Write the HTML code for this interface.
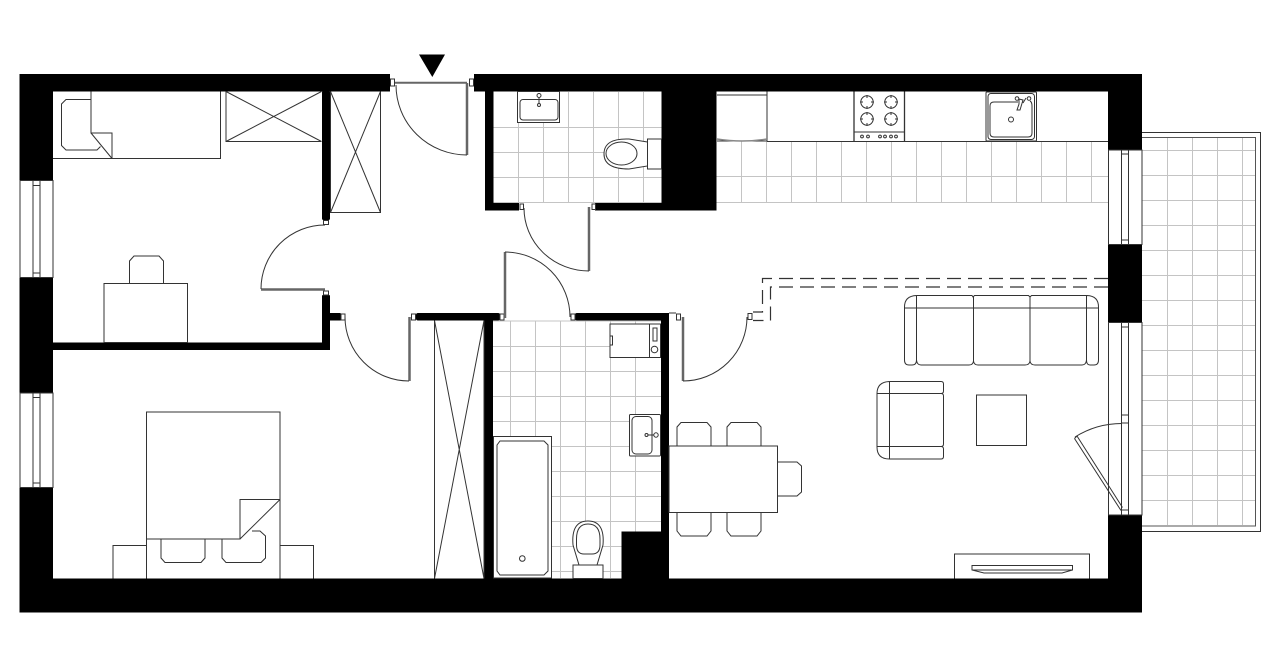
<!DOCTYPE html>
<html><head><meta charset="utf-8"><style>html,body{margin:0;padding:0;background:#fff}svg{display:block}</style></head>
<body>
<svg width="1280" height="667" viewBox="0 0 1280 667" xmlns="http://www.w3.org/2000/svg">
<rect width="1280" height="667" fill="#fff"/>
<!-- balcony -->
<g fill="none">
<rect x="1130" y="132.5" width="130.5" height="399" stroke="#333" stroke-width="1"/>
<rect x="1130" y="137.5" width="125.5" height="388.5" stroke="#555" stroke-width="1"/>
<path stroke="#c4c4c4" stroke-width="1" d="M1167.5 138V525M1192.5 138V525M1217.5 138V525M1242.5 138V525M1142 150.5H1255M1142 175.5H1255M1142 200.5H1255M1142 225.5H1255M1142 250.5H1255M1142 275.5H1255M1142 300.5H1255M1142 325.5H1255M1142 350.5H1255M1142 375.5H1255M1142 400.5H1255M1142 425.5H1255M1142 450.5H1255M1142 475.5H1255M1142 500.5H1255"/>
<!-- tiles -->
<path stroke="#c4c4c4" stroke-width="1" d="M518.5 92V203M543.5 92V203M568.5 92V203M593.5 92V203M618.5 92V203M643.5 92V203M493 127.5H662M493 152.5H662M493 177.5H662M493 202.5H662"/>
<path stroke="#c4c4c4" stroke-width="1" d="M493 321H661M510.5 321V578M535.5 321V578M560.5 321V578M585.5 321V578M610.5 321V578M635.5 321V578M493 346.5H661M493 371.5H661M493 396.5H661M493 421.5H661M493 446.5H661M493 471.5H661M493 496.5H661M493 521.5H661M493 546.5H661M493 571.5H661"/>
<path stroke="#c4c4c4" stroke-width="1" d="M741.5 141V203M766.5 141V203M791.5 141V203M816.5 141V203M841.5 141V203M866.5 141V203M891.5 141V203M916.5 141V203M941.5 141V203M966.5 141V203M991.5 141V203M1016.5 141V203M1041.5 141V203M1066.5 141V203M1091.5 141V203M716 176.5H1108M716 202.5H1108"/>
</g>
<!-- walls -->
<g fill="#000">
<rect x="19.5" y="74" width="370.5" height="17.5"/>
<rect x="474" y="74" width="668" height="17.5"/>
<rect x="19.5" y="74" width="33.5" height="107"/>
<rect x="19.5" y="278" width="33.5" height="115"/>
<rect x="19.5" y="487.5" width="33.5" height="125"/>
<rect x="19.5" y="578.5" width="1122.5" height="34"/>
<rect x="1108" y="74" width="34" height="76"/>
<rect x="1108" y="244.5" width="34" height="78"/>
<rect x="1108" y="515" width="34" height="97"/>
<rect x="322" y="91" width="8" height="129" rx="1.5"/>
<rect x="322" y="295" width="8" height="55" rx="1"/>
<rect x="53" y="342.5" width="277" height="7.5"/>
<rect x="330" y="313" width="10.5" height="7.5"/>
<rect x="416" y="313" width="84" height="7.5" rx="2"/>
<rect x="575" y="313" width="94" height="7.5" rx="2"/>
<rect x="484.5" y="313" width="8.5" height="266"/>
<rect x="661" y="313" width="8" height="266"/>
<rect x="621.5" y="531.5" width="47" height="48"/>
<rect x="485" y="91" width="8.5" height="119.5"/>
<rect x="485" y="203" width="34" height="7.5"/>
<rect x="595" y="203" width="121" height="7.5"/>
<rect x="661.5" y="91" width="55" height="119.5"/>
<path d="M419 54.5H445L432.3 77Z"/>
</g>
<!-- windows -->
<g fill="#fff" stroke="#333" stroke-width="1">
<rect x="20" y="180.5" width="33" height="97"/>
<rect x="20" y="393" width="33" height="94.5"/>
<rect x="1108.5" y="150" width="33.5" height="94.5"/>
<rect x="1108.5" y="322.5" width="33.5" height="192.5"/>
<path fill="none" d="M33 181V277M40 181V277M33 185.5H40M33 273H40M33 393V487M40 393V487M33 397.5H40M33 483H40M1121.5 150V244M1128.5 150V244M1121.5 154H1128.5M1121.5 240H1128.5M1121.5 323V515M1128.5 323V515M1121.5 327H1128.5M1121.5 415H1128.5M1121.5 423H1128.5M1121.5 510H1128.5"/>
</g>
<!-- furniture & doors -->
<g fill="none" stroke="#333" stroke-width="1">
<!-- single bed -->
<path d="M53 158.5H220.5V91.5M91 91.5V133H112V158.5M91 133L112 158.5"/>
<path d="M91 99.5H66L61.5 104V145.5L66 150H97L100.5 146.5"/>
<path d="M226 91.5V141.5H321.5M226 91.5L321.5 141.5M226 141.5L321.5 91.5"/>
<rect x="104" y="283.5" width="83.5" height="59"/>
<path d="M129.5 283.5V261L134 256H159L163.5 261V283.5"/>
<!-- double bed -->
<path d="M146.5 578.5V412H280V578.5M146.5 539H240V499.5H280M240 539L280 499.5"/>
<path d="M161 539V558L165 562.5H201L205 558V539M222 539V558L226 562.5H261L265.5 558V536L260 531H252"/>
<path d="M146.5 545.5H113V578.5M280 545.5H313.5V578.5"/>
<!-- closets -->
<path d="M330.5 91.5V212.5H380.5V91.5M330.5 91.5L380.5 212.5M330.5 212.5L380.5 91.5"/>
<path d="M434.5 320.5V578.5M484 320.5V578.5M434.5 320.5L484 578.5M484 320.5L434.5 578.5"/>
<!-- entry door -->
<rect x="390.5" y="79" width="4" height="7" fill="#fff"/>
<rect x="469.5" y="79" width="4" height="7" fill="#fff"/>
<path stroke="#666" stroke-width="2" d="M395 82.7H467"/>
<path stroke="#666" stroke-width="2.5" d="M467 83V155"/>
<path d="M396 85A71 70 0 0 0 467 155"/>
<!-- wc door -->
<rect x="520" y="204" width="3.5" height="5.5" fill="#fff"/>
<rect x="592" y="204" width="3.5" height="5.5" fill="#fff"/>
<path stroke="#666" stroke-width="2.5" d="M589 207V271"/>
<path d="M524 208A65 63 0 0 0 589 271"/>
<!-- bath door -->
<rect x="500" y="314" width="4" height="6" fill="#fff"/>
<rect x="571" y="314" width="4" height="6" fill="#fff"/>
<path stroke="#666" stroke-width="2.5" d="M505 252V318"/>
<path d="M505 252A65 65 0 0 1 570 317"/>
<!-- bedroom 1 door -->
<rect x="323.5" y="220.5" width="5" height="4" fill="#fff"/>
<rect x="323.5" y="291" width="5" height="4" fill="#fff"/>
<path stroke="#666" stroke-width="2.5" d="M261 289.5H325"/>
<path d="M325 225A64 64 0 0 0 261 289"/>
<!-- bedroom 2 door -->
<rect x="341" y="314" width="4" height="6" fill="#fff"/>
<rect x="411.5" y="314" width="4" height="6" fill="#fff"/>
<path stroke="#666" stroke-width="2.5" d="M409.5 317V381"/>
<path d="M345 317A64 64 0 0 0 409 381"/>
<!-- living door -->
<rect x="676.5" y="314" width="4" height="6" fill="#fff"/>
<rect x="748" y="313.5" width="4" height="6" fill="#fff"/>
<path d="M669 313H676"/>
<path stroke="#666" stroke-width="2.5" d="M683 317V381"/>
<path d="M747 317A64 64 0 0 1 683 381"/>
<!-- balcony door -->
<path d="M1074.5 438.5L1121 510.5M1077 436L1122.5 507.5M1074.5 438.5L1077 436"/>
<path d="M1075 437A88 88 0 0 1 1122 423.5"/>
<!-- dashed -->
<path stroke-width="1.2" stroke-dasharray="14 7" d="M1108 278.5H762.5V312H753M1108 287H770.5V320.5H753"/>
<!-- wc sink -->
<path fill="#fff" d="M517.5 91.5V122.5H559.5V91.5Z"/>
<rect x="520" y="99.5" width="38" height="20.5" rx="3"/>
<circle cx="539" cy="95.5" r="2"/>
<circle cx="539" cy="105" r="1.5"/>
<path d="M539 97.5V103.5"/>
<!-- wc toilet -->
<path fill="#fff" d="M647.5 142L629 139Q604 138 604 154Q604 169 629 169L647.5 166Z"/>
<rect x="647.5" y="139" width="14" height="30" fill="#fff"/>
<ellipse cx="621.5" cy="153.5" rx="15.5" ry="11.5"/>
<!-- washer -->
<rect x="610" y="324" width="50.5" height="33.5" fill="#fff"/>
<path d="M649.5 324V357.5"/>
<rect x="653" y="328" width="4" height="13"/>
<circle cx="654.5" cy="349.5" r="3.3"/>
<rect x="610" y="336" width="2.5" height="9"/>
<!-- bath sink -->
<rect x="629.5" y="414.5" width="31" height="41.5" rx="1" fill="#fff"/>
<rect x="632" y="416.5" width="20" height="37.5" rx="4"/>
<circle cx="646.5" cy="435" r="1.5"/>
<circle cx="656" cy="435" r="2.2"/>
<path d="M648 435H654"/>
<!-- bath -->
<path fill="#fff" d="M493.5 436.5H551.5V578H493.5Z" stroke="#333"/>
<path d="M500 441H544L548 445V571L544 575H500L497 571V445Z"/>
<circle cx="522.3" cy="558.5" r="2.8"/>
<!-- toilet -->
<path fill="#fff" d="M573 565H603V578.5H573Z"/>
<path fill="#fff" d="M579 565L573 545Q571 521 588 521Q605 521 603 545L597 565Z"/>
<path d="M576.5 539Q576.5 524 588 524Q600 524 600 539V545Q600 554 592 554H584Q576.5 554 576.5 545Z"/>
<!-- fridge -->
<path fill="#fff" stroke="none" d="M717 92H767V141H717Z"/>
<path d="M717 95H767M717 141H767M767 91.5V141.5"/>
<path stroke="#888" stroke-width="1.5" d="M717 139Q742 143 767 139"/>
<!-- counter -->
<path d="M767 141.5H1108"/>
<!-- range -->
<path stroke-width="1.3" d="M854 91.5V141.5M904.5 91.5V141.5"/>
<path d="M854 132H904.5"/>
<g>
<circle cx="867" cy="102" r="6.2"/><circle cx="891" cy="102" r="6.2"/><circle cx="867" cy="119" r="6.2"/><circle cx="891" cy="119" r="6.2"/>
<path d="M867 95V98M867 106V109M860 102H863M871 102H874M891 95V98M891 106V109M884 102H887M895 102H898M867 112V115M867 123V126M860 119H863M871 119H874M891 112V115M891 123V126M884 119H887M895 119H898"/>
<circle cx="862" cy="136.5" r="1.4"/><circle cx="868" cy="136.5" r="1.4"/><circle cx="880" cy="136.5" r="1.4"/><circle cx="885" cy="136.5" r="1.4"/><circle cx="891" cy="136.5" r="1.4"/><circle cx="896" cy="136.5" r="1.4"/>
</g>
<!-- kitchen sink -->
<rect x="986" y="92" width="50.5" height="49" rx="1"/>
<rect x="988" y="93.5" width="46.5" height="46" rx="3"/>
<path d="M1018 102H994Q990 102 990 106V133Q990 137 994 137H1028Q1032 137 1032 133V106Q1032 102 1030 101"/>
<circle cx="1011" cy="119.5" r="2.5"/>
<circle cx="1017" cy="98.5" r="1.8"/>
<circle cx="1029" cy="98.5" r="1.8"/>
<path d="M1019 99L1023 100L1020 110H1017L1019 104ZM1023 103L1026 98"/>
<!-- dining -->
<rect x="669" y="446" width="108.5" height="66.5"/>
<path d="M677 446V427L681 422.5H707L711 427V446M727 446V427L731 422.5H757L761 427V446"/>
<path d="M677 512.5V531L681 536H707L711 531V512.5M727 512.5V531L731 536H757L761 531V512.5"/>
<path d="M777.5 462H797L801.5 466V492L797 496H777.5"/>
<!-- sofa -->
<path d="M916.5 295.5H972L973 297L974.5 295.5H1028.5L1030 297L1031.5 295.5H1087Q1098.5 296 1098.5 307V360Q1098.5 365 1094 365H1090Q1086.5 365 1086.5 360V295.5M916.5 295.5Q904.5 296 904.5 307V360Q904.5 365 909 365H912Q916.5 365 916.5 360V295.5"/>
<path d="M904.5 308H1098.5M973.5 296V361M1030 296V361M916.5 360Q917 365 921 365H969Q973 365 973.5 361Q974 365 978 365H1025Q1029.5 365 1030 361Q1030.5 365 1035 365H1082Q1086 365 1086.5 360"/>
<!-- armchair -->
<path d="M889.5 381.5H941Q943.5 381.5 943.5 384V391Q943.5 393.5 941 393.5H877M889.5 381.5Q877 382 877 393.5V447Q877 459 889.5 459H941Q943.5 459 943.5 456.5V449Q943.5 446.5 941 446.5H877M889.5 381.5V459M941 393.5Q943.5 393.5 943.5 396V444Q943.5 446.5 941 446.5"/>
<rect x="976.5" y="395" width="50" height="50.5"/>
<!-- tv -->
<path d="M954.5 578.5V554H1089.5V578.5"/>
<path d="M972 565.5H1072.5V570L1062 573H984L972 570Z"/>
<path d="M972 570H1072.5"/>
</g>
</svg>
</body></html>
